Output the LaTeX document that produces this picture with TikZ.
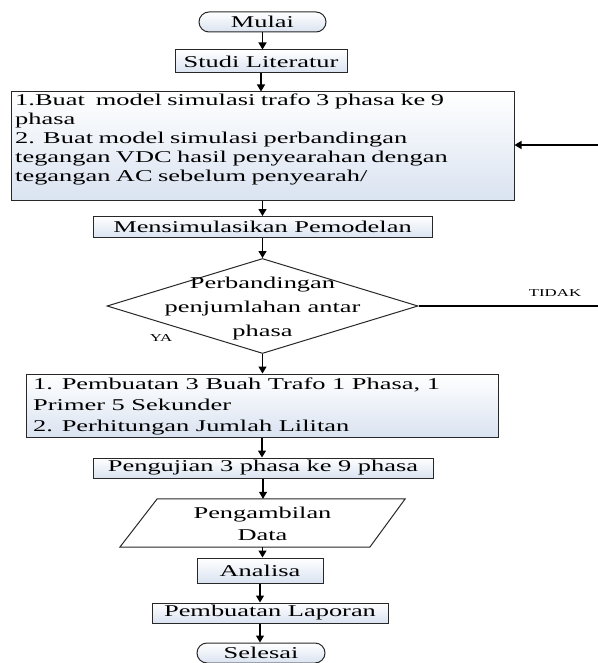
\documentclass[tikz,border=0pt]{standalone}
\usepackage{fontspec}
\setmainfont{Liberation Serif}[FakeStretch=1.6]
\usetikzlibrary{arrows.meta,shapes.geometric}
\definecolor{boxbot}{RGB}{218,227,241}
\definecolor{edgec}{RGB}{40,40,40}
\begin{document}
\begin{tikzpicture}[x=1pt,y=-1pt,
  every node/.style={font=\fontsize{16.5}{19}\selectfont, text=black},
  base/.style={draw=edgec, line width=1pt, inner sep=0pt},
  procbox/.style={base, rectangle, top color=white, bottom color=boxbot},
  termbox/.style={base, rectangle, rounded corners=10pt, top color=white, bottom color=boxbot},
  decbox/.style={base, diamond, fill=white},
  dataline/.style={draw=edgec, line width=1pt, fill=white},
  plaintxt/.style={inner sep=0pt, align=left},
  arr/.style={draw=black, line width=1.2pt, -{Triangle[length=7pt,width=8pt]}},
  lbl/.style={font=\fontsize{10.5}{12}\selectfont, inner sep=0pt}
]
\useasboundingbox (0,0) rectangle (597,663);

\node[termbox, minimum width=127, minimum height=20] (mulai) at (262.5,22) {Mulai};
\node[procbox, minimum width=172, minimum height=23] (studi) at (261,61.5) {Studi Literatur};
\node[procbox, minimum width=503, minimum height=108] (box1) at (262.5,146) {};
\node[plaintxt, text width=494, anchor=north west] (box1txt) at (15,94)
  {1.Buat\ \ model simulasi trafo 3 phasa ke 9\\phasa\\2. Buat model simulasi perbandingan\\tegangan VDC hasil penyearahan dengan\\tegangan AC sebelum penyearah/};
\node[procbox, minimum width=339, minimum height=21] (mensim) at (262.5,227) {Mensimulasikan Pemodelan};
\node[decbox, minimum width=311, minimum height=95] (dec) at (262.5,306) {};
\node[inner sep=0pt, align=center, font=\fontsize{16.5}{24}\selectfont] (dectxt) at (262.5,309)
  {Perbandingan\\penjumlahan antar\\phasa};
\node[procbox, minimum width=472, minimum height=63] (box2) at (262,405.5) {};
\node[plaintxt, font=\fontsize{16.5}{21}\selectfont, anchor=west] (box2txt) at (33,406)
  {1. Pembuatan 3 Buah Trafo 1 Phasa, 1\\Primer 5 Sekunder\\2. Perhitungan Jumlah Lilitan};
\node[procbox, minimum width=340, minimum height=20] (peng) at (263,468) {Pengujian 3 phasa ke 9 phasa};
\node[inner sep=0pt, minimum width=285, minimum height=48] (data) at (262.5,523) {};
\draw[dataline] (data.south west) -- ([xshift=250pt]data.south west) -- (data.north east)
  -- ([xshift=-248pt]data.north east) -- cycle;
\node[inner sep=0pt, align=center, font=\fontsize{16.5}{22}\selectfont] (datatxt) at (262.5,524) {Pengambilan\\Data};
\node[procbox, minimum width=126, minimum height=25] (anal) at (260,570.5) {Analisa};
\node[procbox, minimum width=236, minimum height=20] (lap) at (270,613) {Pembuatan Laporan};
\node[termbox, minimum width=128, minimum height=20] (sele) at (261,653) {Selesai};

\node[lbl] (tidak) at (555,293) {TIDAK};
\node[lbl] (ya) at (161,338) {YA};

\draw[arr] (mulai.south) -- (mulai.south |- studi.north);
\draw[arr] (studi.south) -- (studi.south |- box1.north);
\draw[arr] (box1.south) -- (box1.south |- mensim.north);
\draw[arr] (mensim.south) -- (mensim.south |- dec.north);
\draw[arr] (dec.south) -- (dec.south |- box2.north);
\draw[arr] (box2.south) -- (box2.south |- peng.north);
\draw[arr] (peng.south) -- (peng.south |- data.north);
\draw[arr] (data.south) -- (data.south |- anal.north);
\draw[arr] (anal.south) -- (anal.south |- lap.north);
\draw[arr] (anal.south |- lap.south) -- (anal.south |- sele.north);

\coordinate (c1) at (602,306);
\coordinate (c2) at (602,145);
\draw[arr] (dec.east) -- (c1) -- (c2) -- (box1.east |- c2);
\end{tikzpicture}
\end{document}
